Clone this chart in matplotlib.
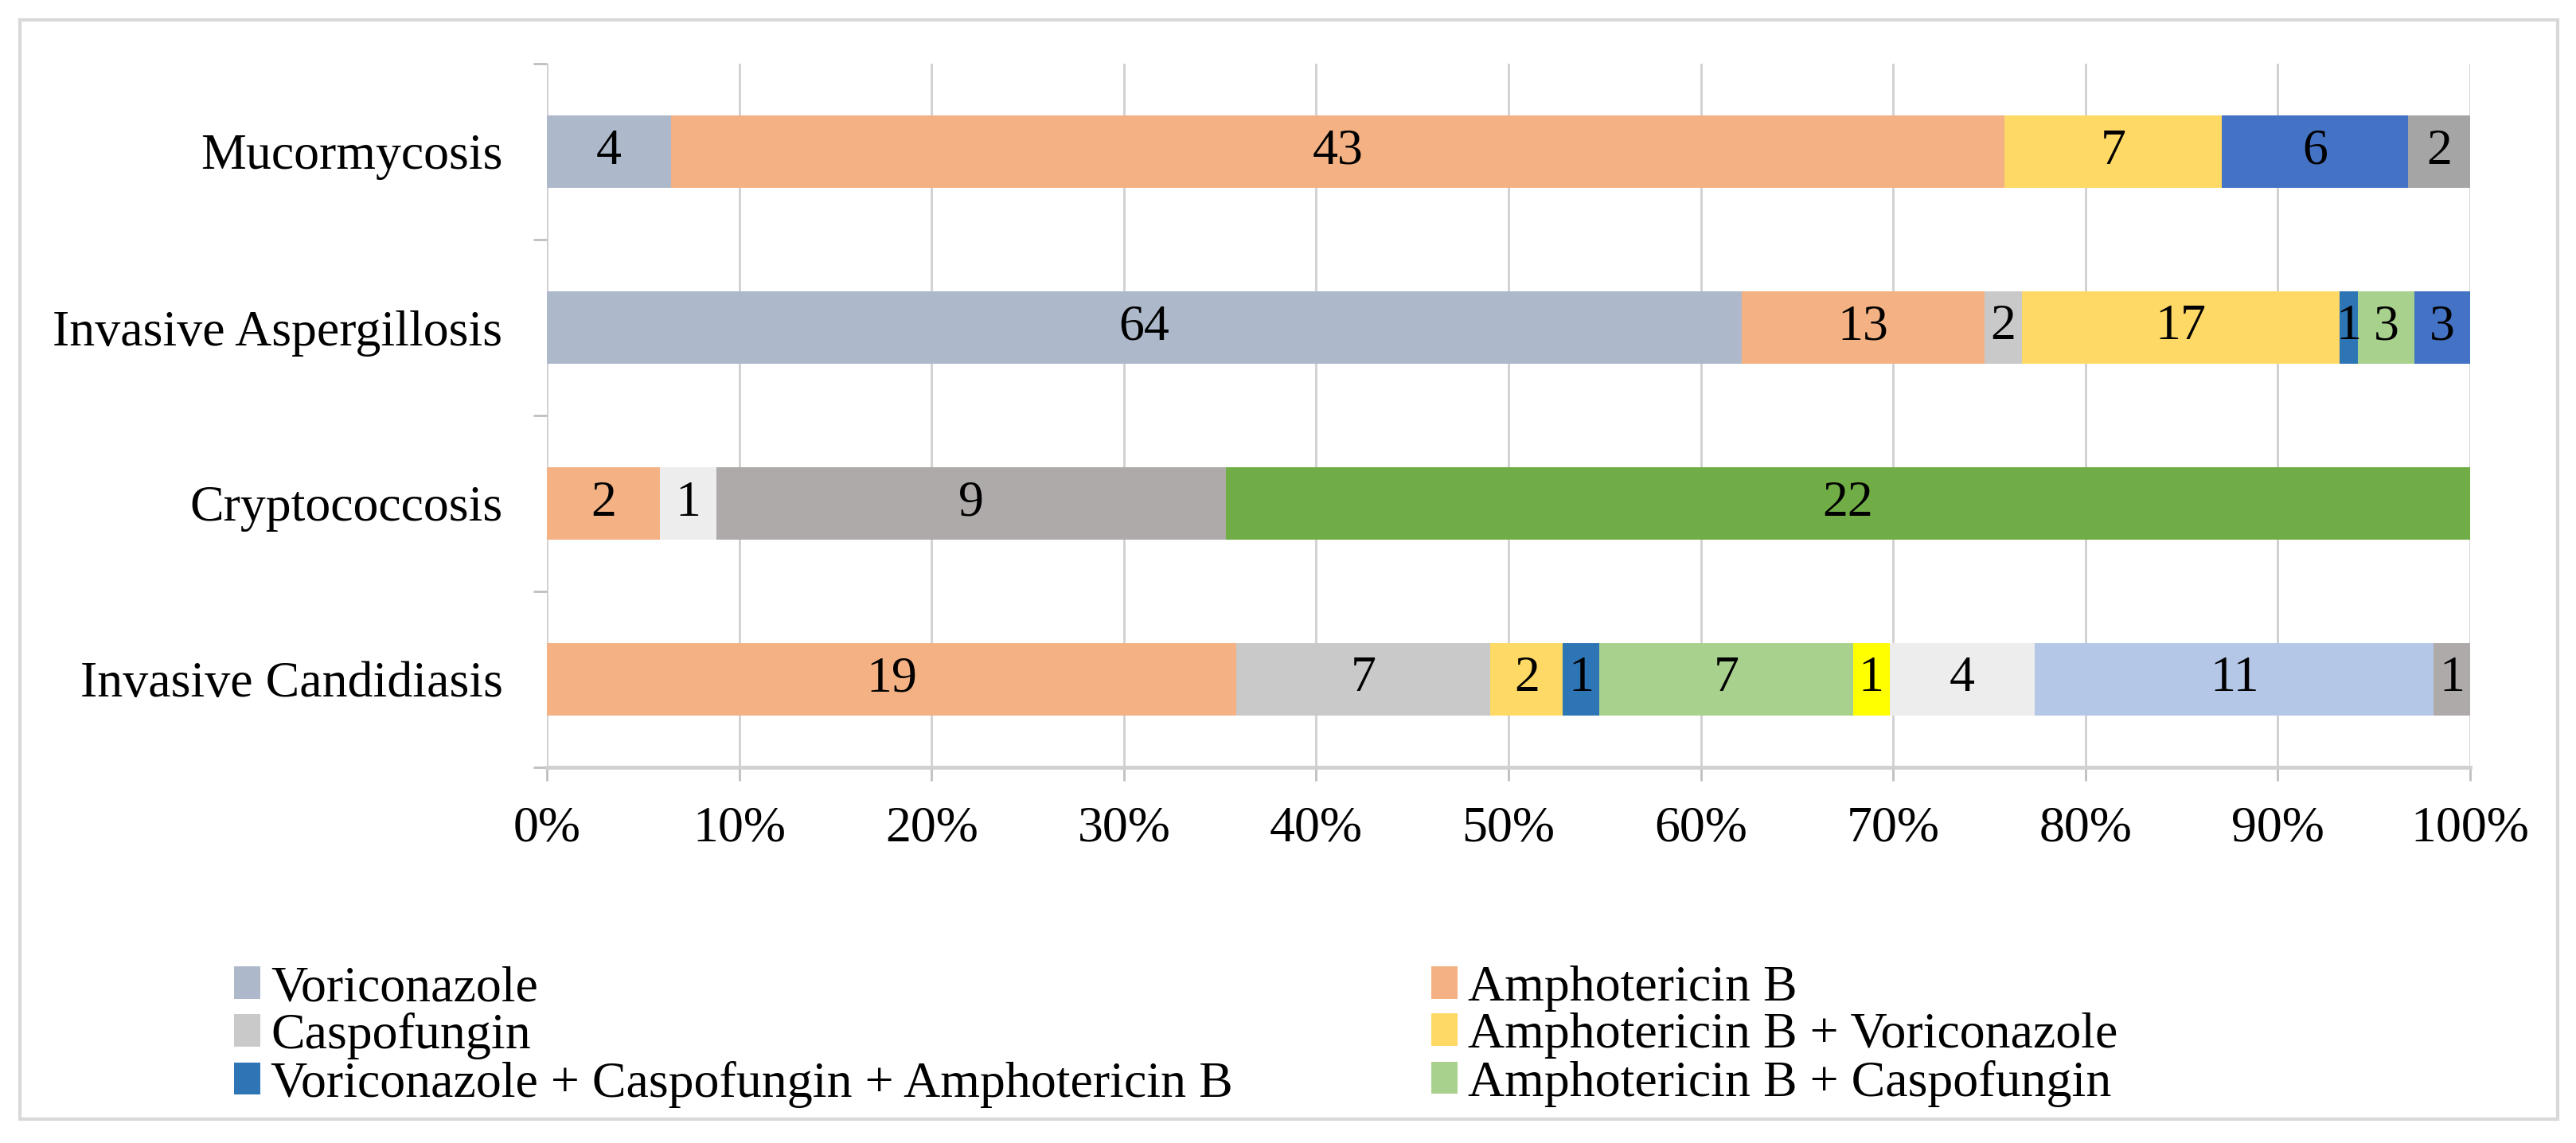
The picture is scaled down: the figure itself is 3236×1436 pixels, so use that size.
import numpy as np
import matplotlib.pyplot as plt
from matplotlib.patches import Rectangle

plt.rcParams['font.family'] = ['Liberation Serif', 'DejaVu Serif']

# categories, top to bottom
categories = ['Mucormycosis', 'Invasive Aspergillosis', 'Cryptococcosis', 'Invasive Candidiasis']

# patient counts per regimen, same order as categories
series_names = [
    'Voriconazole',
    'Amphotericin B',
    'Caspofungin',
    'Amphotericin B + Voriconazole',
    'Voriconazole + Caspofungin + Amphotericin B',
    'Amphotericin B + Caspofungin',
    'Regimen 7',
    'Regimen 8',
    'Regimen 9',
    'Regimen 10',
    'Regimen 11',
    'Regimen 12',
    'Regimen 13',
]
voriconazole = [4, 64, 0, 0]
amphotericin_b = [43, 13, 2, 19]
caspofungin = [0, 2, 0, 7]
amb_vori = [7, 17, 0, 2]
vori_caspo_amb = [0, 1, 0, 1]
amb_caspo = [0, 3, 0, 7]
regimen_7 = [0, 0, 0, 1]
regimen_8 = [0, 0, 1, 4]
regimen_9 = [0, 0, 0, 11]
regimen_10 = [0, 0, 9, 1]
regimen_11 = [0, 0, 22, 0]
regimen_12 = [6, 3, 0, 0]
regimen_13 = [2, 0, 0, 0]

series_values = [voriconazole, amphotericin_b, caspofungin, amb_vori, vori_caspo_amb,
                 amb_caspo, regimen_7, regimen_8, regimen_9, regimen_10, regimen_11,
                 regimen_12, regimen_13]
colors = ['#ADB9CA', '#F4B183', '#C9C9C9', '#FFD966', '#2E75B6', '#A9D18E', '#FFFF00',
          '#EDEDED', '#B4C7E7', '#AEAAAA', '#70AD47', '#4472C4', '#A5A5A5']

tick_labels = ['0%', '10%', '20%', '30%', '40%', '50%', '60%', '70%', '80%', '90%', '100%']

W, H = 3237, 1436
fig = plt.figure(figsize=(W / 100, H / 100), dpi=100)
ax = fig.add_axes([687 / W, 1 - 964 / H, (3103 - 687) / W, (964 - 80) / H])

data = np.array(series_values, dtype=float)
totals = data.sum(axis=0)
shares = data / totals
ypos = np.arange(len(categories))[::-1]

fs = 46
left = np.zeros(len(categories))
bars = []
for name, vals, share, col in zip(series_names, data, shares, colors):
    b = ax.barh(ypos, share, left=left, height=0.41, color=col, label=name, zorder=3)
    bars.append(b)
    for y, v, s, l in zip(ypos, vals, share, left):
        if v > 0:
            ax.text(l + s / 2, y, '%d' % v, ha='center', va='center', fontsize=fs, zorder=4)
    left = left + share

ax.set_xlim(0, 1)
ax.set_ylim(-0.5, len(categories) - 0.5)
ax.set_xticks(np.linspace(0, 1, 11))
ax.set_xticklabels(tick_labels, fontsize=fs)
ax.tick_params(axis='x', length=12, width=2, color='#BFBFBF', pad=23)
ax.set_yticks(ypos)
ax.set_yticklabels(categories, fontsize=fs)
ax.tick_params(axis='y', length=0, pad=40)
ax.set_yticks(np.arange(len(categories) + 1) - 0.5, minor=True)
ax.tick_params(axis='y', which='minor', length=12, width=2, color='#BFBFBF')
ax.grid(axis='x', color='#CFCFCF', linewidth=2, zorder=0)

for side in ['top', 'right', 'left']:
    ax.spines[side].set_visible(False)
ax.spines['bottom'].set_color('#D0D0D0')
ax.spines['bottom'].set_linewidth(3.5)
ax.spines['bottom'].set_zorder(5)

# legend: only the first six regimens, laid out row by row in two columns
order = [0, 2, 4, 1, 3, 5]
handles = [bars[i] for i in order]
labels = [series_names[i] for i in order]
fig.legend(handles, labels, loc='upper left', bbox_to_anchor=(294 / W, 1 - 1213 / H),
           ncol=2, frameon=False, fontsize=fs, handlelength=0.52, handleheight=0.6,
           handletextpad=0.2, columnspacing=3.9, labelspacing=0.02, borderpad=0,
           borderaxespad=0)

fig.patches.append(Rectangle((25 / W, 30 / H), (3213 - 25) / W, (1406 - 25) / H,
                             transform=fig.transFigure, fill=False, edgecolor='#D9D9D9',
                             linewidth=3))

fig.savefig('out.png', dpi=100)
